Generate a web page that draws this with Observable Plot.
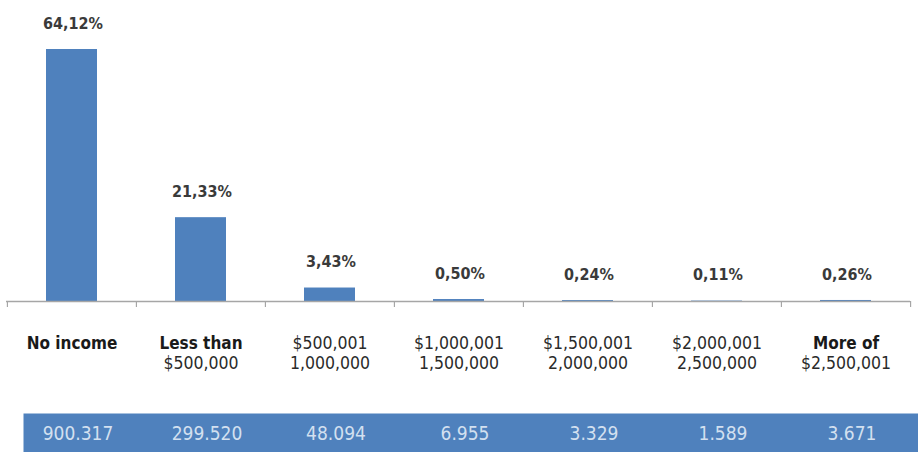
<!DOCTYPE html>
<html>
<head>
<meta charset="utf-8">
<script src="https://cdn.jsdelivr.net/npm/d3@7"></script>
<script src="https://cdn.jsdelivr.net/npm/@observablehq/plot@0.6"></script>
<style>
  html, body { margin: 0; padding: 0; background: #fff; }
  #chart svg { display: block; }
</style>
</head>
<body>
<div id="chart"></div>
<script>
// ---- data ----
const categories = ["No income", "Less than $500,000", "$500,001 1,000,000", "$1,000,001 1,500,000",
                    "$1,500,001 2,000,000", "$2,000,001 2,500,000", "More of $2,500,001"];
const shares = [64.12, 21.33, 3.43, 0.50, 0.24, 0.11, 0.26];
const counts = ["900.317", "299.520", "48.094", "6.955", "3.329", "1.589", "3.671"];
const labelLine1 = ["No income", "Less than", "$500,001", "$1,000,001", "$1,500,001", "$2,000,001", "More of"];
const labelLine2 = ["", "$500,000", "1,000,000", "1,500,000", "2,000,000", "2,500,000", "$2,500,001"];
const line1Bold = [true, true, false, false, false, false, true];

const rows = categories.map((c, i) => ({
  cat: c, share: shares[i], count: counts[i],
  l1: labelLine1[i], l2: labelLine2[i], bold: line1Bold[i]
}));

const W = 918, H = 452;
const mL = 6, mR = 8, mT = 49, mB = 151;
const bw = (W - mL - mR) / categories.length;
const frameH = H - mT - mB;
const font = "'DejaVu Sans Condensed', 'Liberation Sans Narrow', sans-serif";
const blue = "#4f81bd";
const fmtPct = v => v.toFixed(2).replace(".", ",") + "%";

const chart = Plot.plot({
  width: W, height: H,
  marginLeft: mL, marginRight: mR, marginTop: mT, marginBottom: mB,
  style: { fontFamily: font, background: "#fff" },
  x: { type: "band", domain: categories, padding: 0, axis: null },
  y: { domain: [0, shares[0]], axis: null },
  marks: [
    // blue table strip
    Plot.frame({ fill: blue, stroke: null, insetTop: 364, insetBottom: -151, insetLeft: 17, insetRight: -8 }),
    Plot.barY(rows, { x: "cat", y: "share", fill: blue, insetLeft: 39, insetRight: 39 }),
    Plot.ruleY([0], { stroke: "#a6a6a6", strokeWidth: 1.6 }),
    // category boundary ticks
    Plot.ruleX(rows, { x: "cat", dx: -bw / 2, stroke: "#a6a6a6", strokeWidth: 1.2, insetTop: frameH, insetBottom: -6 }),
    Plot.ruleX(rows.slice(-1), { x: "cat", dx: bw / 2, stroke: "#a6a6a6", strokeWidth: 1.2, insetTop: frameH, insetBottom: -6 }),
    // percent labels
    Plot.text(rows, { x: "cat", y: "share", text: d => fmtPct(d.share), dy: -26, dx: 1,
      fontSize: 16, fontWeight: "bold", fill: "#3a3a3a" }),
    // category labels
    Plot.text(rows.filter(d => d.bold), { x: "cat", text: "l1", frameAnchor: "bottom", lineAnchor: "middle", dy: 42,
      fontSize: 17, fontWeight: "bold", fill: "#1a1a1a" }),
    Plot.text(rows.filter(d => !d.bold), { x: "cat", text: "l1", frameAnchor: "bottom", lineAnchor: "middle", dy: 42,
      fontSize: 17.5, fill: "#2a2a2a" }),
    Plot.text(rows, { x: "cat", text: "l2", frameAnchor: "bottom", lineAnchor: "middle", dy: 62,
      fontSize: 17.5, fill: "#2a2a2a" }),
    // count row
    Plot.text(rows, { x: "cat", text: "count", frameAnchor: "bottom", lineAnchor: "middle", dy: 132, dx: 6,
      fontSize: 19, fill: "#d3e0f0" })
  ]
});
document.getElementById("chart").appendChild(chart);
</script>
</body>
</html>
